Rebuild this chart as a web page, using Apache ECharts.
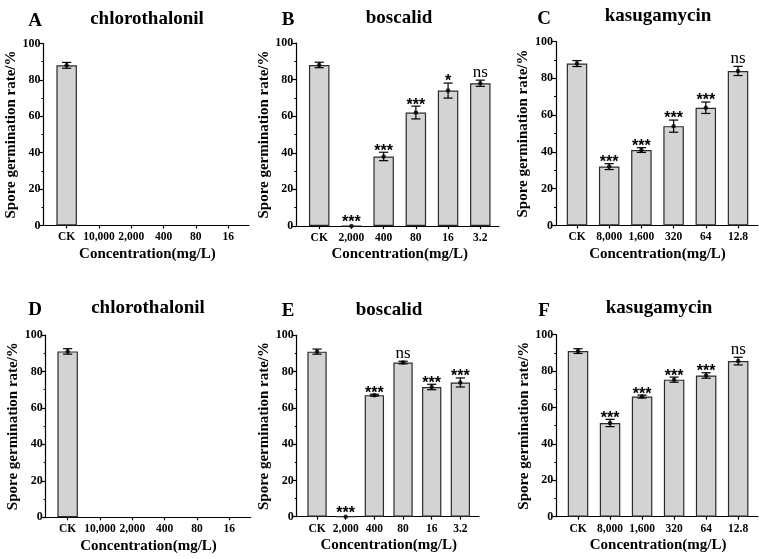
<!DOCTYPE html>
<html><head><meta charset="utf-8">
<script src="https://cdn.jsdelivr.net/npm/echarts@6/dist/echarts.min.js"></script>
<style>html,body{margin:0;padding:0;background:#fff}#c{width:769px;height:559px}</style>
</head><body><div id="c"></div>
<script>
// ---------- DATA ----------
const catsChloro = ['CK', '10,000', '2,000', '400', '80', '16'];
const catsBosc = ['CK', '2,000', '400', '80', '16', '3.2'];
const catsKasu = ['CK', '8,000', '1,600', '320', '64', '12.8'];

const meanA = [88, null, null, null, null, null];
const errA = [1.6, null, null, null, null, null];
const sigA = ['', '', '', '', '', ''];

const meanB = [88, 0, 38, 62, 74, 78];
const errB = [1.5, 0, 2.3, 3.5, 4.1, 1.7];
const sigB = ['', '***', '***', '***', '*', 'ns'];

const meanC = [88, 32, 41, 54, 64, 84];
const errC = [1.6, 1.6, 1.3, 3.3, 3.1, 2.5];
const sigC = ['', '***', '***', '***', '***', 'ns'];

const meanD = [91, null, null, null, null, null];
const errD = [1.5, null, null, null, null, null];
const sigD = ['', '', '', '', '', ''];

const meanE = [91, 0, 67, 85, 71.5, 74];
const errE = [1.4, 0, 0.5, 0.7, 1.5, 2.5];
const sigE = ['', '***', '***', 'ns', '***', '***'];

const meanF = [91, 51.5, 66, 75.3, 77.6, 85.5];
const errF = [1.3, 2, 0.8, 1.4, 1.5, 2.1];
const sigF = ['', '***', '***', '***', '***', 'ns'];

const letters = ['A', 'B', 'C', 'D', 'E', 'F'];
const titles = ['chlorothalonil', 'boscalid', 'kasugamycin', 'chlorothalonil', 'boscalid', 'kasugamycin'];
const yTitle = 'Spore germination rate/%';
const xTitle = 'Concentration(mg/L)';

// ---------- LAYOUT (positions/styles only) ----------
const layout = [
  {ax: 43.5, axEnd: 249, b0: 50.5, b1: 244.3, top: 43.5, bot: 225.5, lx: 35, ly: 21, tx: 147, ty: 19, bw: 20.5},
  {ax: 296.3, axEnd: 499, b0: 303.1, b1: 496.4, top: 43, bot: 226, lx: 288, ly: 20, tx: 399, ty: 18, bw: 20.5},
  {ax: 556, axEnd: 758, b0: 560.9, b1: 754.1, top: 41.5, bot: 225.5, lx: 544, ly: 19, tx: 658, ty: 16, bw: 20.5},
  {ax: 45.7, axEnd: 250.7, b0: 51.5, b1: 245.5, top: 335, bot: 517.3, lx: 35, ly: 310, tx: 148, ty: 308, bw: 20.5},
  {ax: 296.7, axEnd: 479, b0: 302.7, b1: 474.7, top: 335.3, bot: 516.7, lx: 288, ly: 311, tx: 389, ty: 310, bw: 19.3},
  {ax: 556.3, axEnd: 758, b0: 562, b1: 754.2, top: 334.7, bot: 516.7, lx: 544, ly: 311, tx: 659, ty: 308, bw: 20.5}
];

const panels = [
  {cats: catsChloro, mean: meanA, err: errA, sig: sigA},
  {cats: catsBosc, mean: meanB, err: errB, sig: sigB},
  {cats: catsKasu, mean: meanC, err: errC, sig: sigC},
  {cats: catsChloro, mean: meanD, err: errD, sig: sigD},
  {cats: catsBosc, mean: meanE, err: errE, sig: sigE},
  {cats: catsKasu, mean: meanF, err: errF, sig: sigF}
];

const FONT = '"Liberation Serif", "Times New Roman", serif';
const SANS = '"Liberation Sans", Arial, sans-serif';
const grids = [], xAxes = [], yAxes = [], series = [], graphics = [];

panels.forEach((p, i) => {
  const L = layout[i];
  const gOuter = grids.length;
  grids.push({left: L.ax, width: L.axEnd - L.ax, top: L.top, height: L.bot - L.top, containLabel: false});
  const gMain = grids.length;
  grids.push({left: L.b0, width: L.b1 - L.b0, top: L.top, height: L.bot - L.top, containLabel: false});

  xAxes.push({gridIndex: gOuter, type: 'value', min: 0, max: 1,
    axisLine: {show: true, lineStyle: {color: '#000', width: 1.2}},
    axisTick: {show: false}, axisLabel: {show: false}, splitLine: {show: false}});
  yAxes.push({gridIndex: gOuter, type: 'value', min: 0, max: 100, interval: 20,
    axisLine: {show: true, lineStyle: {color: '#000', width: 1.2}},
    axisTick: {show: true, length: 4, lineStyle: {color: '#000', width: 1.2}},
    minorTick: {show: true, splitNumber: 2, length: 2, lineStyle: {color: '#000', width: 1}},
    axisLabel: {show: true, margin: 3, color: '#000', fontFamily: FONT, fontWeight: 'bold', fontSize: 12},
    splitLine: {show: false}, minorSplitLine: {show: false},
    name: yTitle, nameLocation: 'middle', nameGap: 16,
    nameTextStyle: {color: '#000', fontFamily: FONT, fontWeight: 'bold', fontSize: 15}});

  const xm = xAxes.length;
  xAxes.push({gridIndex: gMain, type: 'category', data: p.cats, boundaryGap: true,
    axisLine: {show: false},
    axisTick: {show: true, alignWithLabel: true, length: 3, lineStyle: {color: '#000', width: 1.2}},
    axisLabel: {show: true, margin: 6, interval: 0, color: '#000', fontFamily: FONT, fontWeight: 'bold', fontSize: 11.5},
    splitLine: {show: false},
    name: xTitle, nameLocation: 'middle', nameGap: 21,
    nameTextStyle: {color: '#000', fontFamily: FONT, fontWeight: 'bold', fontSize: 15}});
  const ym = yAxes.length;
  yAxes.push({gridIndex: gMain, type: 'value', min: 0, max: 100, show: false});

  series.push({type: 'bar', xAxisIndex: xm, yAxisIndex: ym, barWidth: L.bw,
    data: p.mean.map(v => v === null ? '-' : v),
    itemStyle: {color: '#d3d3d3', borderColor: '#2b2b2b', borderWidth: 1.2},
    emphasis: {disabled: true}, animation: false, z: 2});

  series.push({type: 'scatter', xAxisIndex: xm, yAxisIndex: ym, symbol: 'circle', symbolSize: 4.5,
    data: p.mean.map((v, k) => v === null ? null : [k, v]).filter(d => d),
    itemStyle: {color: '#000'}, animation: false, z: 5, silent: true});

  const sigs = p.sig;
  series.push({type: 'custom', xAxisIndex: xm, yAxisIndex: ym, animation: false, z: 6, silent: true,
    data: p.mean.map((v, k) => v === null ? null : [k, v, p.err[k]]).filter(d => d),
    renderItem: function (params, api) {
      const x = api.value(0), m = api.value(1), e = api.value(2);
      const hi = api.coord([x, m + e]);
      const lo = api.coord([x, m - e]);
      const cap = 4.6;
      const ls = {stroke: '#000', lineWidth: 1.2};
      const children = [];
      if (e > 0) {
        children.push({type: 'line', shape: {x1: hi[0], y1: hi[1], x2: lo[0], y2: lo[1]}, style: ls});
        children.push({type: 'line', shape: {x1: hi[0] - cap, y1: hi[1], x2: hi[0] + cap, y2: hi[1]}, style: ls});
        children.push({type: 'line', shape: {x1: lo[0] - cap, y1: lo[1], x2: lo[0] + cap, y2: lo[1]}, style: ls});
      }
      const s = sigs[x];
      if (s) {
        const isNs = s === 'ns';
        const dy = isNs ? -8 : (e > 0 ? -1 : -3);
        children.push({type: 'text', x: hi[0], y: hi[1] + dy,
          style: {text: s, textAlign: 'center', textVerticalAlign: 'middle', fill: '#000',
            font: isNs ? ('normal 17px ' + FONT) : ('bold 16px ' + SANS)}});
      }
      return {type: 'group', children: children};
    }});

  graphics.push({type: 'text', x: L.lx, y: L.ly, silent: true,
    style: {text: letters[i], textAlign: 'center', textVerticalAlign: 'middle', fill: '#000', font: 'bold 19px ' + FONT}});
  graphics.push({type: 'text', x: L.tx, y: L.ty, silent: true,
    style: {text: titles[i], textAlign: 'center', textVerticalAlign: 'middle', fill: '#000', font: 'bold 19px ' + FONT}});
});

const chart = echarts.init(document.getElementById('c'), null, {renderer: 'canvas'});
chart.setOption({
  backgroundColor: '#fff',
  animation: false,
  grid: grids, xAxis: xAxes, yAxis: yAxes, series: series, graphic: graphics
});
</script></body></html>
